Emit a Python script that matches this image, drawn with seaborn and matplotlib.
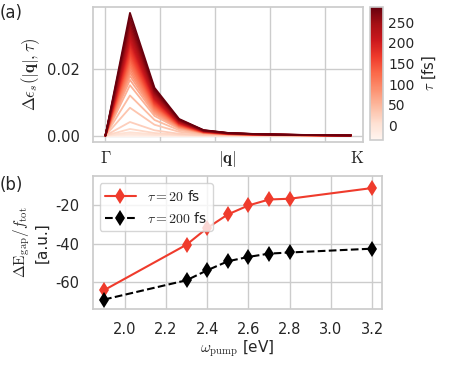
"""Two-panel figure: screening change vs |q| over pump delay, and gap shift vs pump frequency."""

import matplotlib
import matplotlib.pyplot as plt
import numpy as np
import pandas as pd
import seaborn as sns

matplotlib.use("Agg")

# panel (a): momentum grid (Gamma -> K) and screening profile shape
Q_POINTS = [0.0, 0.448, 0.896, 1.344, 1.792, 2.24, 2.688, 3.136, 3.584, 4.032, 4.48]
PROFILE = [0.0, 1.0, 0.39, 0.136, 0.045, 0.022, 0.014, 0.009, 0.006, 0.004, 0.002]

# pump-probe delays [fs] and peak amplitude of each curve
TAU = [-35, -25, -15, -5, 5, 15, 25, 35, 45, 55, 65, 75, 85, 95, 105, 115, 125,
       135, 145, 155, 165, 175, 185, 195, 205, 215, 225, 235, 245, 255, 265, 275, 285]
PEAK = [0.0, 0.0, 0.0002, 0.0005, 0.001, 0.002, 0.0041, 0.0084, 0.0121, 0.0152,
        0.0168, 0.018, 0.019, 0.0199, 0.0208, 0.0216, 0.0224, 0.0232, 0.024, 0.0248,
        0.0256, 0.0264, 0.0272, 0.028, 0.0288, 0.0296, 0.0305, 0.0314, 0.0323,
        0.0333, 0.0344, 0.0356, 0.037]
TAU_RANGE = (-35, 287)
Q_LABELS = [r"$\Gamma$", r"$|\mathbf{q}|$", r"$\mathrm{K}$"]
Q_LABEL_POS = [0.0, 2.22, 4.59]

# panel (b): gap change per pump frequency
OMEGA = [1.9, 2.3, 2.4, 2.5, 2.6, 2.7, 2.8, 3.2]
GAP_20FS = [-64.3, -40.5, -31.8, -24.7, -20.0, -16.9, -16.5, -10.9]
GAP_200FS = [-69.2, -59.1, -53.9, -49.2, -46.9, -45.2, -44.6, -42.6]

sns.set_theme(style="whitegrid")
plt.rcParams["mathtext.fontset"] = "cm"
plt.rcParams["axes.unicode_minus"] = False
plt.rcParams["font.family"] = ["DejaVu Sans"]

fig = plt.figure(figsize=(4.5, 3.74), dpi=100)
ax_a = fig.add_axes([0.207, 0.621, 0.600, 0.361])
cax = fig.add_axes([0.822, 0.626, 0.030, 0.355])
ax_b = fig.add_axes([0.206, 0.174, 0.642, 0.355])

# --- panel (a)
rows = []
for tau, peak in zip(TAU, PEAK):
    for q, p in zip(Q_POINTS, PROFILE):
        rows.append({"q": q, "eps": peak * p, "tau": tau})
df_a = pd.DataFrame(rows)

sns.lineplot(data=df_a, x="q", y="eps", hue="tau", palette="Reds",
             hue_norm=TAU_RANGE, legend=False, linewidth=1.3, ax=ax_a)
# grid lines on unlabeled majors, labels on minor ticks
ax_a.xaxis.remove_overlapping_locs = False
ax_a.set_xticks([0, 1, 2, 3, 4])
ax_a.set_xticklabels([])
ax_a.set_xticks(Q_LABEL_POS, minor=True)
ax_a.set_xticklabels(Q_LABELS, minor=True, fontsize=12)
ax_a.tick_params(axis="x", which="minor", length=0, pad=5)
ax_a.set_yticks([0.0, 0.02])
ax_a.set_yticklabels(["0.00", "0.02"], fontsize=10.5)
ax_a.set_xlabel("")
ax_a.set_ylabel(r"$\Delta\epsilon_s(|\mathbf{q}|,\tau)$", fontsize=12)

sm = plt.cm.ScalarMappable(cmap="Reds", norm=plt.Normalize(*TAU_RANGE))
cbar = fig.colorbar(sm, cax=cax, ticks=[0, 50, 100, 150, 200, 250])
cbar.outline.set_edgecolor("#cccccc")
cbar.outline.set_linewidth(1.2)
cbar.ax.tick_params(labelsize=10, length=0)
cbar.set_label(r"$\tau$ [fs]", fontsize=10.5)

# --- panel (b)
df_b = pd.DataFrame({"omega": OMEGA, "g20": GAP_20FS, "g200": GAP_200FS})
sns.lineplot(data=df_b, x="omega", y="g20", color="#ef3b2c", marker="d",
             markersize=8, markeredgewidth=0, linewidth=1.5,
             label=r"$\tau=20$ fs", ax=ax_b)
sns.lineplot(data=df_b, x="omega", y="g200", color="black", marker="d",
             markersize=8, markeredgewidth=0, linewidth=1.5, linestyle="--",
             label=r"$\tau=200$ fs", ax=ax_b)
ax_b.set_xlim(1.845, 3.245)
ax_b.set_ylim(-74.1, -4.7)
ax_b.set_xticks([2.0, 2.2, 2.4, 2.6, 2.8, 3.0, 3.2])
ax_b.set_yticks([-60, -40, -20])
ax_b.tick_params(labelsize=10.5)
ax_b.set_xlabel(r"$\omega_{\rm pump}$ [eV]", fontsize=11, labelpad=1)
ax_b.set_ylabel("$\\Delta\\mathrm{E}_{\\rm gap}/f_{\\rm tot}$\n[a.u.]", fontsize=11)
ax_b.legend(loc="upper left", fontsize=10, handlelength=2.2)

fig.text(0.0, 0.965, "(a)", fontsize=12, va="center")
fig.text(0.0, 0.505, "(b)", fontsize=12, va="center")

fig.savefig("out.png", dpi=100)
